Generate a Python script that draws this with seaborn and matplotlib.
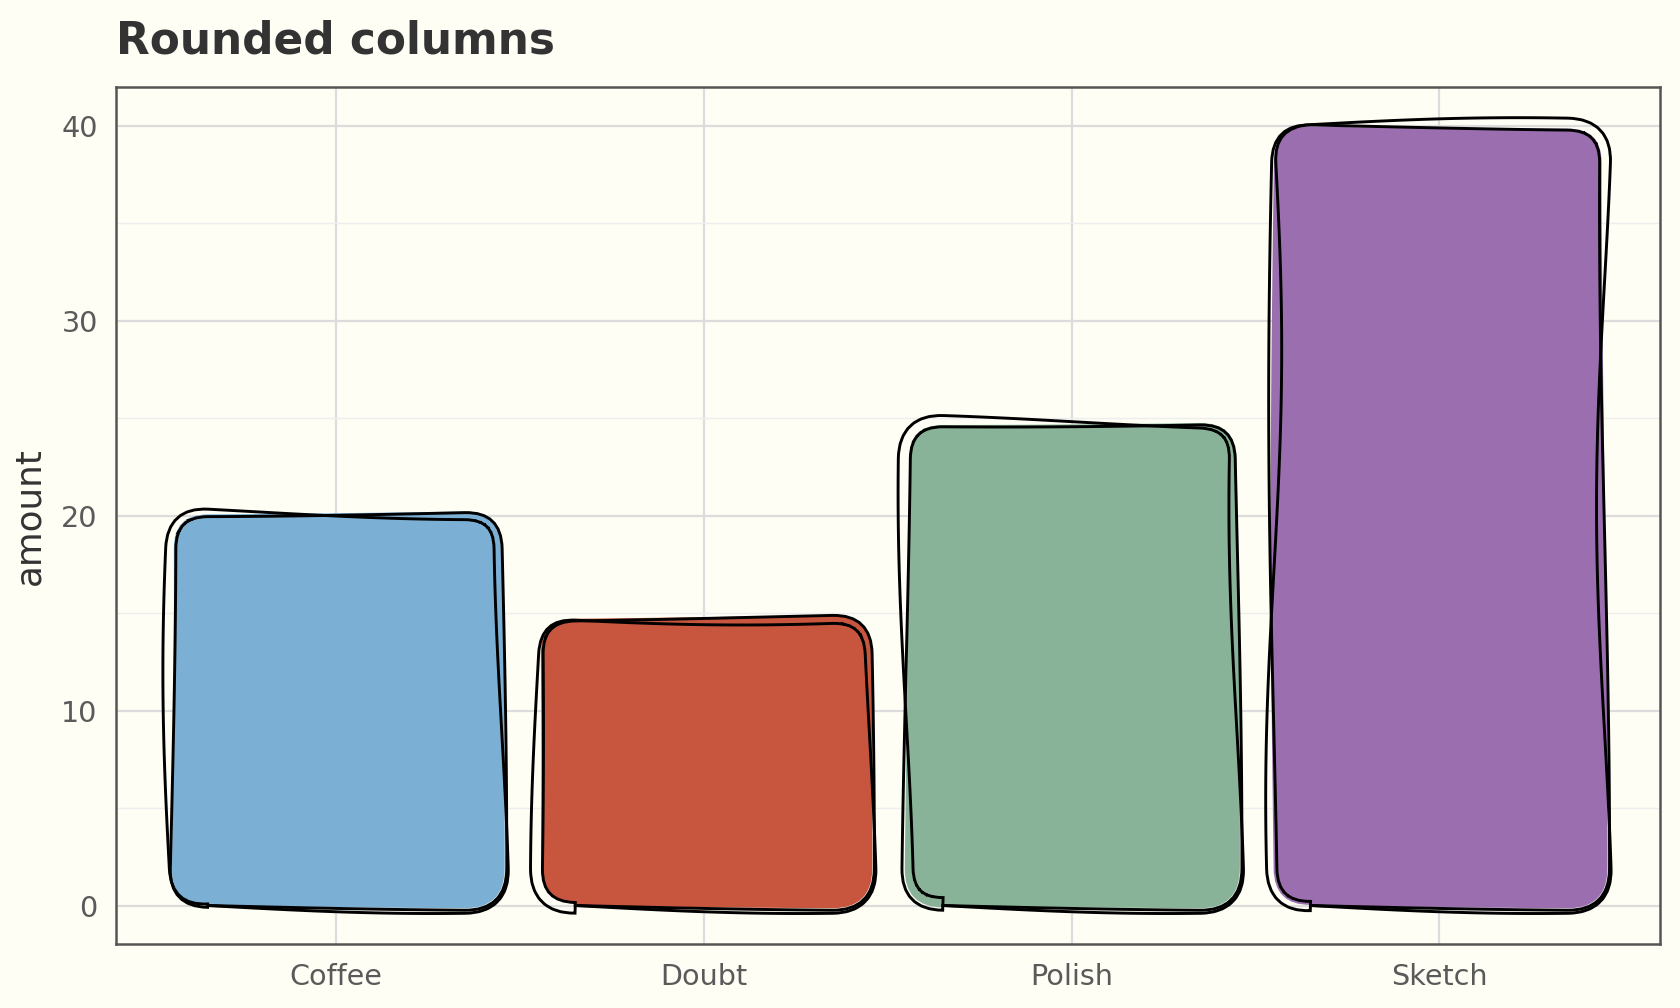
import numpy as np
import pandas as pd
import matplotlib
matplotlib.use('Agg')
import matplotlib.pyplot as plt
import seaborn as sns
from matplotlib.patches import FancyBboxPatch
from matplotlib.ticker import MultipleLocator

# data
categories = ['Coffee', 'Doubt', 'Polish', 'Sketch']
amounts = [20.2, 14.8, 24.8, 40.0]
bar_colors = ['#7BAFD4', '#C8563E', '#89B398', '#9B6FAF']

df = pd.DataFrame({'category': categories, 'amount': amounts})

bg = '#FEFEF4'
sns.set_theme(style='whitegrid')
plt.rcParams['font.family'] = ['DejaVu Sans']

fig = plt.figure(figsize=(8.4, 5.04), dpi=200, facecolor=bg)
ax = fig.add_axes([0.0689, 0.063, 0.919, 0.851])
ax.set_facecolor(bg)

sns.barplot(data=df, x='category', y='amount', hue='category', palette=bar_colors,
            width=0.9, saturation=1, legend=False, ax=ax)
ax.set_xlim(-0.6, 3.6)
ax.set_ylim(-2, 42)

# ratio of y units to x units for the same pixel length (for round corners)
fig.canvas.draw()
bb = ax.get_window_extent()
aspect = (bb.width / 4.2) / (bb.height / 44.0)

# swap the plain rectangles for rounded, hand-drawn looking ones
for p in list(ax.patches):
    x0, y0 = p.get_x(), p.get_y()
    w, h = p.get_width(), p.get_height()
    fc = p.get_facecolor()
    p.remove()
    style = 'round,pad=0,rounding_size=0.1'
    fill = FancyBboxPatch((x0, y0), w, h, boxstyle=style, mutation_aspect=aspect,
                          facecolor=fc, edgecolor='none', zorder=2)
    fill.set_sketch_params(3, 1400, 1)
    ax.add_patch(fill)
    for sk in [(5, 1300, 1), (8, 900, 1)]:
        edge = FancyBboxPatch((x0, y0), w, h, boxstyle=style, mutation_aspect=aspect,
                              facecolor='none', edgecolor='black', lw=1.05, zorder=3)
        edge.set_sketch_params(*sk)
        ax.add_patch(edge)

# grid / frame like ggplot theme_bw
ax.yaxis.set_major_locator(MultipleLocator(10))
ax.yaxis.set_minor_locator(MultipleLocator(5))
ax.grid(True, which='major', color='#DCDCDC', lw=0.8)
ax.grid(True, which='minor', axis='y', color='#EEEEEE', lw=0.5)
ax.set_axisbelow(True)
for s in ax.spines.values():
    s.set_visible(True)
    s.set_color('#555555')
    s.set_linewidth(0.9)

ax.tick_params(axis='both', which='major', length=3, width=0.8, color='#555555',
               labelsize=10.3, labelcolor='#5A5A5A', pad=3.5)
ax.tick_params(axis='y', which='minor', length=0)
ax.set_xlabel('')
ax.set_ylabel('amount', fontsize=12.9, color='#333333')
ax.yaxis.set_label_coords(-0.045, 0.5)
ax.set_title('Rounded columns', loc='left', fontsize=15.8, fontweight='bold',
             color='#333333', pad=12)

fig.savefig('out.png', dpi=200, facecolor=bg)
